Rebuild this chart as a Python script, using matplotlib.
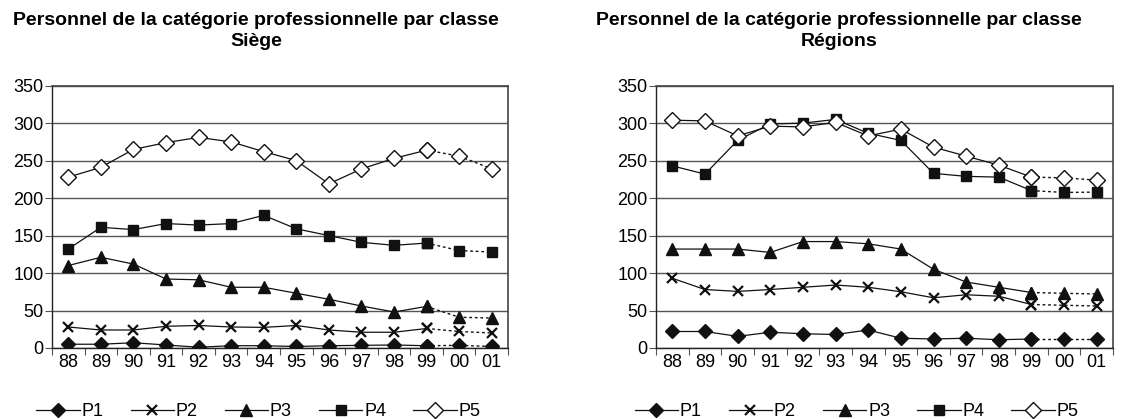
import matplotlib
matplotlib.use("Agg")
import matplotlib.pyplot as plt
from matplotlib.ticker import FixedLocator, NullFormatter

plt.rcParams['font.family'] = ['Liberation Sans', 'DejaVu Sans']

years = ["88", "89", "90", "91", "92", "93", "94", "95", "96", "97", "98", "99", "00", "01"]
series_names = ["P1", "P2", "P3", "P4", "P5"]

# Siège
siege_p1 = [5, 5, 7, 4, 1, 3, 3, 2, 3, 3.5, 4, 3, 3.5, 2]
siege_p2 = [28, 24, 24, 29, 30, 28, 27.5, 30, 24, 21, 21, 26, 22, 20]
siege_p3 = [110, 121, 112, 92, 91, 81, 81, 73, 65, 56, 48, 55.5, 41, 40]
siege_p4 = [132, 161, 158, 166, 164, 166, 177, 159, 150, 141, 137, 140, 130, 128]
siege_p5 = [228, 241, 265, 274, 281, 275, 262, 250, 219, 239, 253, 264, 256, 239]

# Régions
regions_p1 = [22, 22, 15.5, 21, 19, 18, 24, 13, 12, 13, 11, 12, 12, 12]
regions_p2 = [93, 78, 75.5, 78, 81, 84, 81, 75, 67, 71, 69, 58, 57, 56]
regions_p3 = [132, 132, 132, 127.5, 142, 142, 139, 132, 105, 88, 81, 74, 73, 72]
regions_p4 = [243, 232, 277, 299, 300, 305, 286.5, 277, 233, 229, 228, 210, 207.5, 208]
regions_p5 = [304, 303, 283, 296, 295, 301, 283, 292, 268, 256, 244, 228, 227, 224]

title_top = "Personnel de la catégorie professionnelle par classe"

markers = ['D', 'x', '^', 's', 'D']
faces = ['#111111', '#111111', '#111111', '#111111', 'white']
sizes = [7.5, 7, 8.5, 7.3, 8]
split = 11  # last solid point (99), dotted afterwards

fig = plt.figure(figsize=(11.33, 4.19), dpi=100)
ax1 = fig.add_axes([0.0459, 0.1695, 0.4025, 0.626])
ax2 = fig.add_axes([0.579, 0.1695, 0.4034, 0.626])


def draw(ax, data):
    x = list(range(len(years)))
    handles = []
    for i, vals in enumerate(data):
        h, = ax.plot(x[:split + 1], vals[:split + 1], color='#111111', lw=0.9,
                     marker=markers[i], ms=sizes[i], mfc=faces[i], mec='#111111',
                     mew=1.0 if i != 1 else 1.6, zorder=3)
        ax.plot(x[split:], vals[split:], color='#111111', lw=1.0, ls=(0, (2, 2)),
                marker=markers[i], ms=sizes[i], mfc=faces[i], mec='#111111',
                mew=1.0 if i != 1 else 1.6, zorder=3)
        handles.append(h)
    ax.set_xlim(-0.5, len(years) - 0.5)
    ax.set_ylim(0, 350)
    ax.set_yticks(range(0, 351, 50))
    ax.yaxis.grid(True, color='#555555', lw=1.0)
    ax.set_axisbelow(True)
    ax.set_xticks(x)
    ax.set_xticklabels(years)
    ax.xaxis.set_minor_locator(FixedLocator([k - 0.5 for k in range(len(years) + 1)]))
    ax.xaxis.set_minor_formatter(NullFormatter())
    ax.tick_params(axis='x', which='major', length=0, labelsize=13, pad=4)
    ax.tick_params(axis='x', which='minor', length=5, width=0.8, color='#555555')
    ax.tick_params(axis='y', length=5, width=0.8, color='#555555', labelsize=13, pad=1)
    for s in ['left', 'bottom']:
        ax.spines[s].set_color('#222222')
        ax.spines[s].set_linewidth(1.0)
    for s in ['top', 'right']:
        ax.spines[s].set_color('#444444')
        ax.spines[s].set_linewidth(1.2)
    return handles


h1 = draw(ax1, [siege_p1, siege_p2, siege_p3, siege_p4, siege_p5])
h2 = draw(ax2, [regions_p1, regions_p2, regions_p3, regions_p4, regions_p5])

fig.text(0.226, 0.926, title_top + "\nSiège", ha='center', va='center',
         fontsize=14, fontweight='bold', linespacing=1.3)
fig.text(0.7405, 0.926, title_top + "\nRégions", ha='center', va='center',
         fontsize=14, fontweight='bold', linespacing=1.3)

for hs, cx in [(h1, 0.228), (h2, 0.756)]:
    fig.legend(hs, series_names, loc='center', bbox_to_anchor=(cx, 0.018),
               ncol=5, frameon=False, fontsize=13, handlelength=2.4,
               handletextpad=0.1, columnspacing=1.5)

fig.savefig("out.png", dpi=100)
